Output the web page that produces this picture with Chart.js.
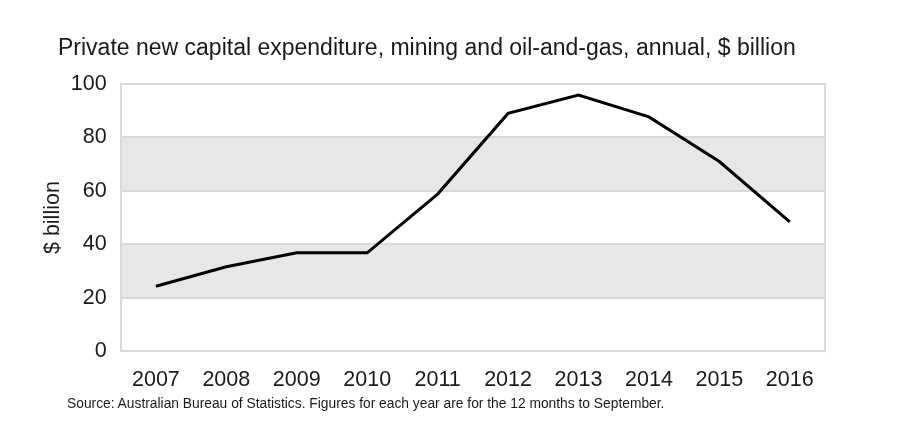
<!DOCTYPE html>
<html>
<head>
<meta charset="utf-8">
<script src="https://cdn.jsdelivr.net/npm/chart.js@4.4.1/dist/chart.umd.min.js"></script>
<style>
    body { margin: 0; background: #fff; font-family: "Liberation Sans", Arial, sans-serif; }
    #wrap { position: relative; width: 900px; height: 433px; }
    #title { position: absolute; left: 58px; top: 34px; font-size: 23px; color: #1a1a1a; white-space: nowrap; }
    #source { position: absolute; left: 67px; top: 396px; font-size: 13.8px; color: #1a1a1a; white-space: nowrap; }
    canvas { position: absolute; left: 0; top: 0; }
</style>
</head>
<body>
<div id="wrap">
    <canvas id="capex" width="900" height="433"></canvas>
    <div id="title">Private new capital expenditure, mining and oil-and-gas, annual, $ billion</div>
    <div id="source">Source: Australian Bureau of Statistics. Figures for each year are for the 12 months to September.</div>
</div>
<script>
const Years = ['2007', '2008', '2009', '2010', '2011', '2012', '2013', '2014', '2015', '2016'];
const Capex = [24.3, 31.6, 36.8, 36.8, 58.8, 89.0, 95.9, 87.7, 71.0, 48.4];
const YTicks = [0, 20, 40, 60, 80, 100];
const Bands = [[20, 40], [60, 80]];

// grey bands behind the line plus the right edge of the frame
const bandPlugin = {
    id: 'bands',
    beforeDraw(chart) {
        const ctx = chart.ctx;
        const area = chart.chartArea;
        const y = chart.scales.y;
        ctx.save();
        ctx.fillStyle = '#e7e7e7';
        Bands.forEach(b => {
            const top = y.getPixelForValue(b[1]);
            const bottom = y.getPixelForValue(b[0]);
            ctx.fillRect(area.left, top, area.right - area.left, bottom - top);
        });
        ctx.restore();
    },
    afterDatasetsDraw(chart) {
        const ctx = chart.ctx;
        const area = chart.chartArea;
        ctx.save();
        ctx.strokeStyle = '#d9d9d9';
        ctx.lineWidth = 2;
        ctx.beginPath();
        ctx.moveTo(area.right, area.top - 1);
        ctx.lineTo(area.right, area.bottom + 1);
        ctx.stroke();
        ctx.restore();
    }
};

const font = { family: '"Liberation Sans", Arial, sans-serif', size: 21.5, lineHeight: 1.2 };

new Chart(document.getElementById('capex'), {
    type: 'line',
    data: {
        labels: Years,
        datasets: [{
            label: 'Capex',
            data: Capex,
            borderColor: '#000',
            borderWidth: 3,
            pointRadius: 0,
            tension: 0
        }]
    },
    options: {
        responsive: false,
        animation: false,
        layout: { padding: { left: 40, top: 84, right: 75, bottom: 25 } },
        plugins: {
            legend: { display: false },
            tooltip: { enabled: false }
        },
        scales: {
            x: {
                offset: true,
                grid: { display: false, drawTicks: false },
                border: { color: '#d9d9d9', width: 2 },
                ticks: { color: '#1a1a1a', font: font, padding: 15.5, maxRotation: 0 }
            },
            y: {
                min: 0,
                max: 100,
                afterBuildTicks: axis => { axis.ticks = YTicks.map(v => ({ value: v })); },
                grid: { color: '#d9d9d9', lineWidth: 2, drawTicks: false },
                border: { color: '#d9d9d9', width: 2 },
                ticks: { color: '#1a1a1a', font: font, padding: 14 },
                title: {
                    display: true,
                    text: '$ billion',
                    color: '#1a1a1a',
                    font: font,
                    padding: { top: 0, bottom: -9 }
                }
            }
        }
    },
    plugins: [bandPlugin]
});
</script>
</body>
</html>
